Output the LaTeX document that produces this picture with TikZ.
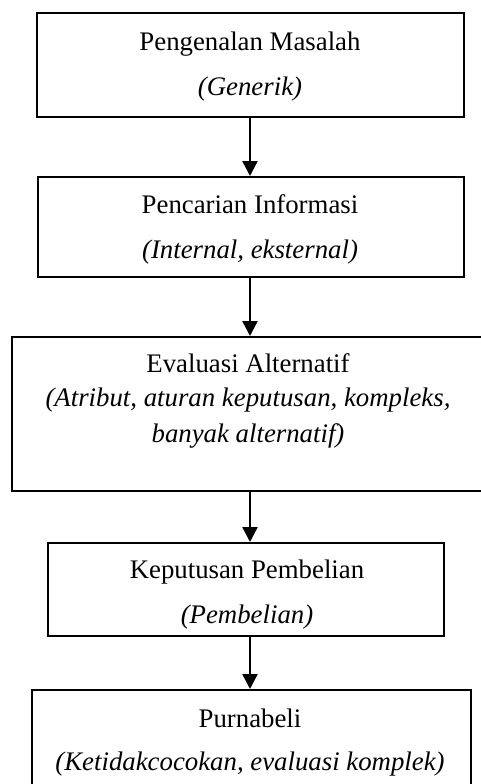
\documentclass[tikz,border=0pt]{standalone}
\usepackage{fontspec}
\setmainfont{Liberation Serif}
\usetikzlibrary{arrows.meta}
\begin{document}
\begin{tikzpicture}[x=0.5pt,y=-0.5pt,
  box/.style={draw,line width=1pt,inner sep=0pt,minimum width=#1},
  txt/.style={anchor=base,inner sep=0pt,font=\fontsize{13.4}{16}\selectfont},
  itxt/.style={txt,font=\fontsize{13.4}{16}\selectfont\itshape},
  arr/.style={line width=1.2pt,-{Triangle[width=7.5pt,length=7.5pt]}}]
\useasboundingbox (0,0) rectangle (481,784);
\begin{scope}
\clip (0,0) rectangle (481,784);
\node[box=213.5pt,minimum height=52pt] (b1) at (250.5,65) {};
\node[box=213pt,minimum height=50pt] (b2) at (251,227) {};
\node[box=236pt,minimum height=77pt] (b3) at (248,414) {};
\node[box=198pt,minimum height=46.5pt] (b4) at (246,589.5) {};
\node[box=219.5pt,minimum height=55pt] (b5) at (251.5,745) {};
\end{scope}
\coordinate (X) at (250,0);
\node[txt] (t1a) at (250,50) {Pengenalan Masalah};
\node[itxt] (t1b) at (250,95) {(Generik)};
\node[txt] (t2a) at (250,213) {Pencarian Informasi};
\node[itxt] (t2b) at (250,258) {(Internal, eksternal)};
\node[txt] (t3a) at (248,372) {Evaluasi Alternatif};
\node[itxt] (t3b) at (248,406) {(Atribut, aturan keputusan, kompleks,};
\node[itxt] (t3c) at (248,442) {banyak alternatif)};
\node[txt] (t4a) at (247,578) {Keputusan Pembelian};
\node[itxt] (t4b) at (247,623) {(Pembelian)};
\node[txt] (t5a) at (250,727) {Purnabeli};
\node[itxt] (t5b) at (250,770) {(Ketidakcocokan, evaluasi komplek)};
\draw[arr] (b1.south -| X) -- (b2.north -| X);
\draw[arr] (b2.south -| X) -- (b3.north -| X);
\draw[arr] (b3.south -| X) -- (b4.north -| X);
\draw[arr] (b4.south -| X) -- (b5.north -| X);
\end{tikzpicture}
\end{document}
